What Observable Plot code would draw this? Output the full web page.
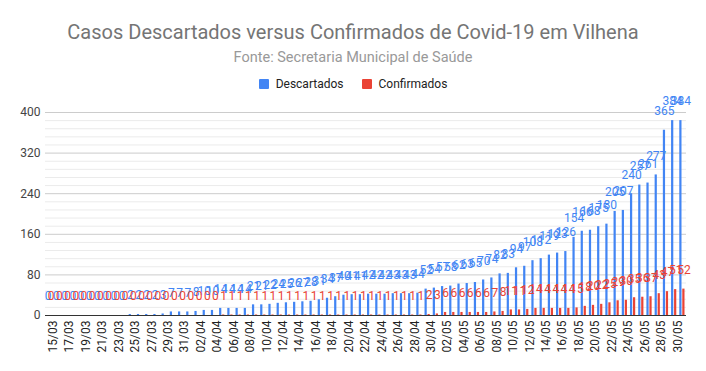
<!DOCTYPE html>
<html>
<head>
<meta charset="utf-8">
<script src="https://cdn.jsdelivr.net/npm/d3@7"></script>
<script src="https://cdn.jsdelivr.net/npm/@observablehq/plot@0.6"></script>
<style>
  body { margin: 0; background: #fff; font-family: Roboto, sans-serif; }
  #wrap { width: 706px; height: 371px; position: relative; overflow: hidden; }
  #header { position: relative; width: 706px; height: 95px; }
  #title { position: absolute; top: 19px; width: 100%; text-align: center; font-size: 20px; line-height: 26px; color: #757575; }
  #subtitle { position: absolute; top: 49px; width: 100%; text-align: center; font-size: 14.5px; line-height: 18px; color: #999; }
  #legend { position: absolute; top: 76px; width: 100%; display: flex; justify-content: center; align-items: center; font-size: 12px; line-height: 16px; color: #222; }
  .sw { display: inline-block; width: 10px; height: 10px; border-radius: 1px; margin-right: 7px; }
  .item { display: flex; align-items: center; margin: 0 9px; }
</style>
</head>
<body>
<div id="wrap">
  <div id="header">
    <div id="title">Casos Descartados versus Confirmados de Covid-19 em Vilhena</div>
    <div id="subtitle">Fonte: Secretaria Municipal de Saúde</div>
    <div id="legend"></div>
  </div>
  <div id="chart"></div>
</div>
<script>
const dates = [
  "15/03","16/03","17/03","18/03","19/03","20/03","21/03","22/03","23/03","24/03",
  "25/03","26/03","27/03","28/03","29/03","30/03","31/03","01/04","02/04","03/04",
  "04/04","05/04","06/04","07/04","08/04","09/04","10/04","11/04","12/04","13/04",
  "14/04","15/04","16/04","17/04","18/04","19/04","20/04","21/04","22/04","23/04",
  "24/04","25/04","26/04","27/04","28/04","29/04","30/04","01/05","02/05","03/05",
  "04/05","05/05","06/05","07/05","08/05","09/05","10/05","11/05","12/05","13/05",
  "14/05","15/05","16/05","17/05","18/05","19/05","20/05","21/05","22/05","23/05",
  "24/05","25/05","26/05","27/05","28/05","29/05","30/05","31/05"
];
const descartados = [
  0,0,0,0,0,0,0,0,0,0,
  2,2,2,2,3,7,7,7,8,10,
  10,14,14,14,14,21,21,22,24,25,
  26,27,28,31,34,37,40,41,41,42,
  42,42,43,43,43,44,52,54,57,58,
  62,63,65,70,74,82,83,94,97,108,
  112,119,123,126,154,166,168,175,180,205,
  207,240,257,261,277,365,384,384
];
const confirmados = [
  0,0,0,0,0,0,0,0,0,0,
  0,0,0,0,0,0,0,0,0,0,
  0,1,1,1,1,1,1,1,1,1,
  1,1,1,1,1,1,1,1,1,1,
  1,1,1,1,1,1,2,3,6,6,
  6,6,6,6,7,8,11,11,12,14,
  14,14,14,14,15,18,20,22,25,29,
  30,35,36,37,43,47,51,52
];
const seriesNames = ["Descartados", "Confirmados"];
const seriesColors = ["#4285F4", "#EA4335"];
const yTicks = [0, 80, 160, 240, 320, 400];
const xTicks = dates.filter((d, i) => i % 2 === 0);

// legend
const legend = document.getElementById("legend");
seriesNames.forEach((n, i) => {
  const it = document.createElement("span");
  it.className = "item";
  it.innerHTML = `<span class="sw" style="background:${seriesColors[i]}"></span>${n}`;
  legend.appendChild(it);
});

const blue = dates.map((d, i) => ({date: d, value: descartados[i]}));
const red = dates.map((d, i) => ({date: d, value: confirmados[i]}));
const minor = d3.range(0, 401, 16).filter(v => v % 80 !== 0);

const chart = Plot.plot({
  width: 706,
  height: 276,
  marginTop: 17,
  marginBottom: 56,
  marginLeft: 45,
  marginRight: 20,
  style: {fontFamily: "Roboto, sans-serif", fontSize: "12px", background: "white", overflow: "visible"},
  x: {type: "band", domain: dates, padding: 0, round: false},
  y: {domain: [0, 400]},
  marks: [
    Plot.ruleY(minor, {stroke: "#ebebeb"}),
    Plot.ruleY(yTicks.slice(1), {stroke: "#cccccc"}),
    Plot.axisY({ticks: yTicks, tickSize: 0, tickPadding: 5, label: null, fill: "#444", fontSize: 12}),
    Plot.axisX({ticks: xTicks, tickRotate: -90, tickSize: 0, tickPadding: 5, label: null, fill: "#222", fontSize: 12, dx: 3.5}),
    Plot.barY(blue, {x: "date", y: "value", fill: seriesColors[0], insetLeft: 1.5, insetRight: 4.5}),
    Plot.barY(red, {x: "date", y: "value", fill: seriesColors[1], insetLeft: 4.5, insetRight: 1.5}),
    Plot.ruleY([0], {stroke: "#333"}),
    Plot.text(blue, {x: "date", y: "value", text: d => String(d.value), dx: -1.5, dy: -19, fill: seriesColors[0], fontSize: 12}),
    Plot.text(red, {x: "date", y: "value", text: d => String(d.value), dx: 1.5, dy: -19, fill: seriesColors[1], fontSize: 12})
  ]
});
document.getElementById("chart").appendChild(chart);
</script>
</body>
</html>
